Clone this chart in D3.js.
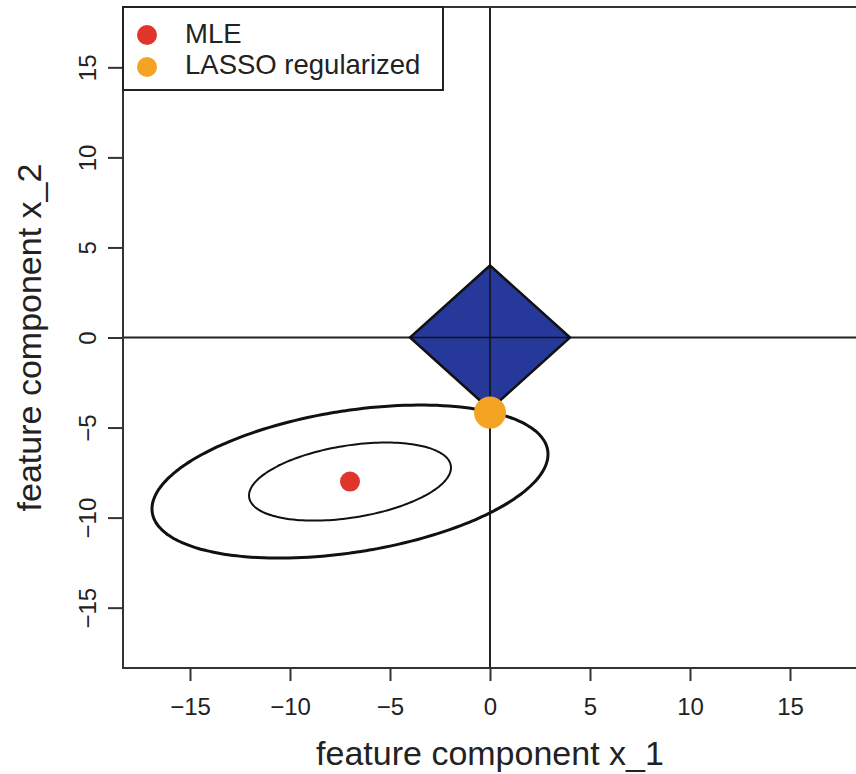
<!DOCTYPE html>
<html>
<head>
<meta charset="utf-8">
<script src="https://cdn.jsdelivr.net/npm/d3@7"></script>
<style>
  body { margin: 0; background: #fff; }
  text { font-family: "Liberation Sans", Arial, sans-serif; fill: #222; }
</style>
</head>
<body>
<div id="chart"></div>
<script>
// data
const xTicks = [-15, -10, -5, 0, 5, 10, 15];
const yTicks = [-15, -10, -5, 0, 5, 10, 15];
const mle = [-7, -8];
const lasso = [0, -4.17];
const l1Radius = 4;
// covariance-like shape of the loss contours around the MLE
const contourShape = [[98, 15], [15, 18.06]];
const contourLevels = [0.51, 1.0];
const legendLabels = ["MLE", "LASSO regularized"];
const legendColors = ["#e0352b", "#f4a322"];

const W = 856, H = 774;
const m = { left: 123, right: -1, top: 7, bottom: 106 };

const svg = d3.select("#chart").append("svg")
  .attr("width", W).attr("height", H);

const x = d3.scaleLinear().domain([-18.35, 18.35]).range([m.left, W - m.right]);
const y = d3.scaleLinear().domain([-18.35, 18.35]).range([H - m.bottom, m.top]);

// zero lines
svg.append("line")
  .attr("x1", x(0)).attr("x2", x(0))
  .attr("y1", y.range()[1]).attr("y2", y.range()[0])
  .attr("stroke", "#222").attr("stroke-width", 2);
svg.append("line")
  .attr("x1", x.range()[0]).attr("x2", x.range()[1])
  .attr("y1", y(0)).attr("y2", y(0))
  .attr("stroke", "#222").attr("stroke-width", 2);

// L1 ball
const diamond = [[l1Radius, 0], [0, l1Radius], [-l1Radius, 0], [0, -l1Radius]];
svg.append("path")
  .attr("d", d3.line().x(d => x(d[0])).y(d => y(d[1])).curve(d3.curveLinearClosed)(diamond))
  .attr("fill", "#27389b")
  .attr("stroke", "#111")
  .attr("stroke-width", 2.5)
  .attr("stroke-linejoin", "miter");

// zero lines again, over the diamond
svg.append("line")
  .attr("x1", x(0)).attr("x2", x(0))
  .attr("y1", y(l1Radius)).attr("y2", y(-l1Radius))
  .attr("stroke", "#111").attr("stroke-width", 1.5);
svg.append("line")
  .attr("x1", x(-l1Radius)).attr("x2", x(l1Radius))
  .attr("y1", y(0)).attr("y2", y(0))
  .attr("stroke", "#111").attr("stroke-width", 1.5);

// loss contours
const l11 = Math.sqrt(contourShape[0][0]);
const l21 = contourShape[1][0] / l11;
const l22 = Math.sqrt(contourShape[1][1] - l21 * l21);
const angles = d3.range(0, 360, 2).map(a => a * Math.PI / 180);
contourLevels.forEach((r, i) => {
  const pts = angles.map(t => [
    mle[0] + r * l11 * Math.cos(t),
    mle[1] + r * (l21 * Math.cos(t) + l22 * Math.sin(t))
  ]);
  svg.append("path")
    .attr("d", d3.line().x(d => x(d[0])).y(d => y(d[1])).curve(d3.curveCardinalClosed)(pts))
    .attr("fill", "none")
    .attr("stroke", "#111")
    .attr("stroke-width", i === 0 ? 2 : 3);
});

// points
svg.append("circle").attr("cx", x(mle[0])).attr("cy", y(mle[1])).attr("r", 10)
  .attr("fill", legendColors[0]);
svg.append("circle").attr("cx", x(lasso[0])).attr("cy", y(lasso[1])).attr("r", 16)
  .attr("fill", legendColors[1]);

// box
svg.append("path")
  .attr("d", `M${W + 2},${y.range()[1]}H${x.range()[0]}V${y.range()[0]}H${W + 2}`)
  .attr("fill", "none").attr("stroke", "#333").attr("stroke-width", 2);

// axes
const gx = svg.append("g")
  .attr("transform", `translate(0,${y.range()[0]})`)
  .call(d3.axisBottom(x).tickValues(xTicks).tickSize(13).tickPadding(17));
const gy = svg.append("g")
  .attr("transform", `translate(${x.range()[0]},0)`)
  .call(d3.axisLeft(y).tickValues(yTicks).tickSize(15));
[gx, gy].forEach(g => {
  g.select(".domain").remove();
  g.selectAll(".tick line").attr("stroke", "#333").attr("stroke-width", 2);
  g.selectAll("text").attr("font-size", 24).attr("fill", "#222")
    .style("font-family", "Liberation Sans, Arial, sans-serif");
});
gy.selectAll("text")
  .attr("x", null).attr("dy", null)
  .attr("text-anchor", "middle")
  .attr("transform", "translate(-27,0) rotate(-90)");

// axis titles
svg.append("text")
  .attr("x", x(0)).attr("y", 765)
  .attr("text-anchor", "middle").attr("font-size", 34)
  .text("feature component x_1");
svg.append("text")
  .attr("transform", `translate(41,${(y.range()[0] + y.range()[1]) / 2}) rotate(-90)`)
  .attr("text-anchor", "middle").attr("font-size", 34)
  .text("feature component x_2");

// legend
const lg = svg.append("g").attr("transform", `translate(${x.range()[0]},${y.range()[1]})`);
lg.append("rect").attr("width", 320).attr("height", 83)
  .attr("fill", "#fff").attr("stroke", "#222").attr("stroke-width", 2);
legendLabels.forEach((lab, i) => {
  lg.append("circle").attr("cx", 24).attr("cy", 28 + i * 32).attr("r", 10)
    .attr("fill", legendColors[i]);
  lg.append("text").attr("x", 62).attr("y", 36 + i * 31)
    .attr("font-size", 27.5).text(lab);
});
</script>
</body>
</html>
